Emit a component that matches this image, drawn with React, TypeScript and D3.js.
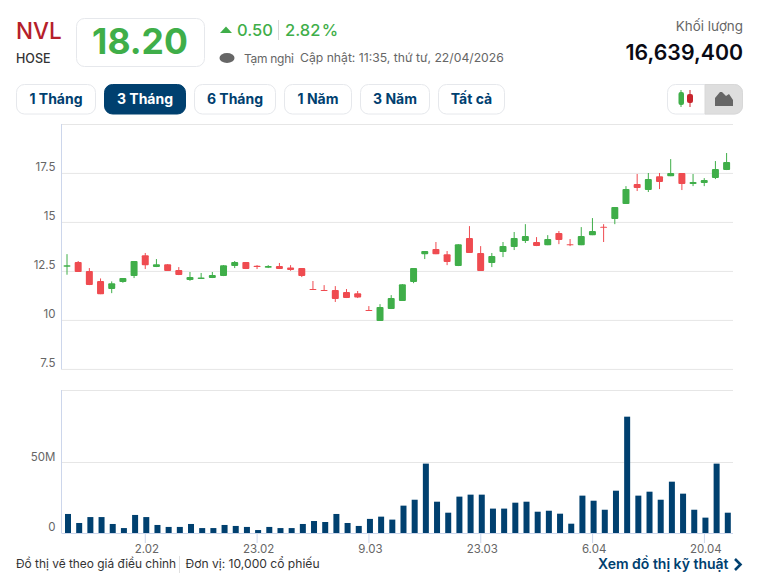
import React from "react";
import * as d3 from "d3";

const opens = [12.74,12.98,12.52,12.01,11.60,11.96,12.26,13.33,12.72,12.87,12.57,12.06,12.11,12.16,12.26,12.77,12.98,12.79,12.69,12.77,12.70,12.67,11.60,11.55,11.55,11.45,11.39,10.53,9.97,10.58,10.99,11.96,13.38,13.64,13.38,12.77,14.20,13.44,12.93,13.49,13.74,14.05,14.00,13.84,14.46,13.89,13.84,14.35,14.78,15.17,15.94,16.96,16.65,17.36,17.36,17.52,16.96,17.01,17.26,17.67];
const highs = [13.38,13.03,12.67,12.14,11.99,12.16,13.03,13.44,13.13,12.87,12.72,12.47,12.42,12.47,12.82,13.03,12.98,12.82,12.82,12.93,12.82,12.67,12.01,11.80,11.75,11.60,11.50,10.73,10.83,11.29,11.85,12.67,13.54,14.00,13.54,13.89,14.81,13.79,13.44,14.00,14.51,14.91,14.25,14.35,14.56,14.15,14.76,15.22,14.91,15.78,16.85,17.47,17.52,17.52,18.23,17.52,17.47,17.26,18.13,18.54];
const lows = [12.33,12.47,11.80,11.34,11.39,11.92,12.16,12.62,12.72,12.52,12.31,12.02,12.11,12.16,12.26,12.67,12.62,12.62,12.67,12.62,12.53,12.21,11.56,11.51,10.94,11.14,11.14,10.49,9.97,10.58,10.99,11.90,13.13,13.38,12.82,12.77,13.44,12.52,12.72,13.23,13.59,13.95,13.79,13.84,13.89,13.79,13.84,14.35,14.00,14.91,15.94,16.60,16.55,16.70,17.36,16.65,16.85,16.85,17.21,17.67];
const closes = [12.82,12.47,11.80,11.34,11.89,12.16,13.03,12.82,12.87,12.52,12.31,12.21,12.19,12.31,12.82,12.98,12.62,12.72,12.77,12.62,12.57,12.26,11.56,11.51,11.09,11.14,11.17,10.49,10.68,11.14,11.85,12.67,13.54,13.38,12.98,13.89,13.44,12.52,13.28,13.79,14.20,14.30,13.79,14.15,14.10,13.84,14.30,14.56,14.74,15.78,16.70,16.75,17.21,17.06,17.52,16.96,17.06,17.16,17.72,18.08];
const volumes = [13.5,7.1,11.3,11.3,6.4,3.5,12.8,11.3,5.7,4.3,4.3,6.4,3.5,3.5,5.7,5,4.3,2.1,4.3,3.5,3.5,6.4,8.5,7.8,13.5,7.1,5,10,11.6,9.5,19.4,23.6,49.2,22.2,14.4,25.8,27.2,27.2,17.3,17.3,21.5,22.2,15.1,15.8,13.7,6.6,26.5,22.9,16.5,30,82.5,26.5,29.3,23.6,36.4,27.9,16.5,10.9,49.2,14.4];
const xTickIndex = [7, 17, 27, 37, 47, 57];
const xTickLabels = ["2.02", "23.02", "9.03", "23.03", "6.04", "20.04"];
const priceTicks = [7.5, 10, 12.5, 15, 17.5];
const volumeTicks = [0, 50];
const rangeButtons = ["1 Tháng", "3 Tháng", "6 Tháng", "1 Năm", "3 Năm", "Tất cả"];
const rangeButtonEdges = [[16, 96], [104, 186], [194, 276], [284, 352], [360, 430], [438, 505]];

const FONT = "Inter, 'Noto Sans', sans-serif";
const GREEN = "#3fae49";
const RED = "#ef4b50";
const NAVY = "#00406f";
const PL = 61.5, PR = 733;

export default function App() {
  const xP = d3.scaleLinear().domain([0, 59]).range([67, 726.6]);
  const xV = d3.scaleLinear().domain([0, 59]).range([68, 727.8]);
  const yP = d3.scaleLinear().domain([10, 17.5]).range([320.4, 173.4]);
  const yV = d3.scaleLinear().domain([0, 50]).range([533, 462.5]);
  return (
    <svg width={758} height={575} style={{ position: "absolute", left: 0, top: 0, fontFamily: FONT }}>
      <rect width={758} height={575} fill="#fff" />
      <text x={16} y={39} fontSize={22.5} fontWeight={500} fill="#b5202a">NVL</text>
      <text x={16} y={63} fontSize={12.5} fontWeight={500} fill="#333">HOSE</text>
      <rect x={76.5} y={18.5} width={128} height={48} rx={8} fill="#fff" stroke="#e6e8ec" />
      <text x={140} y={54} fontSize={35.5} fontWeight={700} fill={GREEN} textAnchor="middle">18.20</text>
      <path d="M220 33 L226 26.5 L232 33 Z" fill={GREEN} />
      <text x={237} y={36} fontSize={16.5} fontWeight={500} fill={GREEN}>0.50</text>
      <line x1={278.5} x2={278.5} y1={20} y2={40} stroke="#d9d9d9" />
      <text x={285} y={36} fontSize={16.5} fontWeight={500} fill={GREEN} wordSpacing={-3}>2.82 %</text>
      <ellipse cx={227} cy={58} rx={7.5} ry={5} fill="#666" />
      <text x={244} y={63} fontSize={12} fill="#666" letterSpacing={-0.3}>Tạm nghỉ</text>
      <text x={300} y={62} fontSize={12.2} fill="#666">Cập nhật: 11:35, thứ tư, 22/04/2026</text>
      <text x={743} y={31} fontSize={13.4} fill="#666" textAnchor="end">Khối lượng</text>
      <text x={743} y={60} fontSize={21.3} fontWeight={600} fill="#0a0a14" textAnchor="end">16,639,400</text>

      {rangeButtons.map((b, i) => {
        const [l, r] = rangeButtonEdges[i];
        const on = i === 1;
        return (
          <g key={b}>
            <rect x={l + 0.5} y={84.5} width={r - l - 1} height={29.5} rx={8} fill={on ? NAVY : "#fff"} stroke={on ? NAVY : "#e6e8ec"} />
            <text x={(l + r) / 2} y={104} fontSize={14} fontWeight={700} fill={on ? "#fff" : NAVY} textAnchor="middle">{b}</text>
          </g>
        );
      })}
      <rect x={667.5} y={84.5} width={75} height={29.5} rx={8} fill="#fff" stroke="#e6e8ec" />
      <path d="M705 84.5 H734.5 a8 8 0 0 1 8 8 V106 a8 8 0 0 1 -8 8 H705 Z" fill="#dedede" stroke="#d8d8d8" />
      <line x1={681} x2={681} y1={90} y2={107} stroke="#3fae49" />
      <rect x={678.5} y={92} width={5.5} height={13} rx={2} fill="#3fae49" />
      <line x1={690} x2={690} y1={90} y2={107} stroke="#c8242c" />
      <rect x={687} y={94} width={6} height={9} rx={2} fill="#c8242c" />
      <path d="M715 106 V98 L720 92 L722 92 L726 96 L729 94 L733 100 V106 Z" fill="#666" />

      <line x1={PL} x2={PR} y1={124.5} y2={124.5} stroke="#e6e6e6" />
      {priceTicks.map(t => (
        <g key={t}>
          <line x1={PL} x2={PR} y1={yP(t)} y2={yP(t)} stroke="#e6e6e6" />
          <text x={55.5} y={yP(t) - 2} fontSize={11.5} fill="#666" textAnchor="end">{t}</text>
        </g>
      ))}
      <line x1={PL} x2={PL} y1={124} y2={yP(7.5)} stroke="#ccd6eb" />

      {opens.map((o, i) => {
        const up = closes[i] >= o;
        const c = up ? GREEN : RED;
        const top = yP(Math.max(o, closes[i]));
        const bot = yP(Math.min(o, closes[i]));
        return (
          <g key={i}>
            <line x1={xP(i)} x2={xP(i)} y1={yP(highs[i])} y2={yP(lows[i])} stroke={c} />
            <rect x={xP(i) - 3.5} y={top} width={7} height={Math.max(bot - top, 1)} rx={1} fill={c} />
          </g>
        );
      })}

      <line x1={PL} x2={PR} y1={390.5} y2={390.5} stroke="#e6e6e6" />
      {volumeTicks.map(t => (
        <g key={t}>
          {t !== 0 && <line x1={PL} x2={PR} y1={yV(t)} y2={yV(t)} stroke="#e6e6e6" />}
          <text x={55.5} y={yV(t) - 2} fontSize={11.5} fill="#666" textAnchor="end">{t === 0 ? "0" : `${t}M`}</text>
        </g>
      ))}
      <line x1={PL} x2={PL} y1={390} y2={533} stroke="#ccd6eb" />
      <line x1={PL} x2={PR} y1={533.5} y2={533.5} stroke="#ccd6eb" />
      {volumes.map((v, i) => (
        <rect key={i} x={xV(i) - 3} y={yV(v)} width={6} height={yV(0) - yV(v)} fill={NAVY} />
      ))}
      {xTickIndex.map((t, i) => (
        <g key={t}>
          <line x1={xV(t) - 1} x2={xV(t) - 1} y1={533} y2={543} stroke="#ccd6eb" />
          <text x={xV(t) + 0.5} y={553} fontSize={11.5} fill="#666" textAnchor="middle">{xTickLabels[i]}</text>
        </g>
      ))}

      <text x={16} y={568} fontSize={11.9} fill="#333">Đồ thị vẽ theo giá điều chỉnh</text>
      <line x1={179.5} x2={179.5} y1={556} y2={573} stroke="#e0e0e0" />
      <text x={185.5} y={568} fontSize={12.1} fill="#333">Đơn vị: 10,000 cổ phiếu</text>
      <text x={598} y={569} fontSize={14} fontWeight={600} fill={NAVY}>Xem đồ thị kỹ thuật</text>
      <path d="M735 559 L740.5 564.5 L735 570" fill="none" stroke={NAVY} strokeWidth={2.6} />
    </svg>
  );
}
